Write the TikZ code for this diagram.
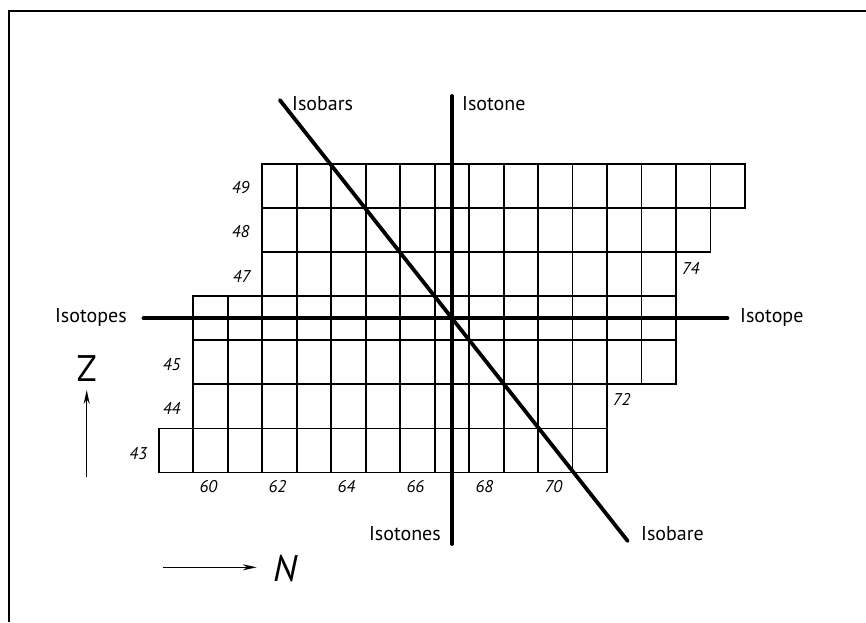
\documentclass[tikz,border=0pt]{standalone}
\usepackage{fontspec}
\setmainfont{PT Sans}
\usetikzlibrary{arrows.meta}

\begin{document}
\begin{tikzpicture}[x=1pt, y=-1pt,
  cell/.style={draw, line width=1.8pt},
  heavy/.style={line width=3.8pt, line cap=round},
  tag/.style={inner sep=0pt, font=\fontsize{20}{20}\selectfont},
  num/.style={inner sep=0pt, font=\fontsize{17}{17}\selectfont\itshape},
  axis/.style={-{Stealth[length=14pt, width=6pt]}, line width=1.4pt},
  axlab/.style={inner sep=0pt, font=\fontsize{37}{37}\selectfont}
]
  \useasboundingbox (0,0) rectangle (866,622);
  \def\xo{158.7} \def\cw{34.49} \def\yb{472.5} \def\ch{44.07}

  % - Rahmen -
  \draw[line width=2pt] (9,622) -- (9,11) -- (866,11);

  % - Nuklidfelder: Z / erste / letzte Spalte -
  \foreach \z/\a/\b in {43/0/12, 44/1/12, 45/1/14, 46/1/14, 47/3/14, 48/3/15, 49/3/16}
    \foreach \k in {\a,...,\b}
      \draw[cell] ({\xo+\k*\cw},{\yb-(\z-42)*\ch}) rectangle ++(\cw,\ch);

  % - Zahlen -
  \foreach \z/\px/\py in {49/240.7/187.3, 48/240.7/231.7, 47/241.7/276.7,
                          45/171.7/365, 44/171.7/408.3, 43/138.3/453.3}
    \node[num] (z\z) at (\px,\py) {\z};
  \foreach \n in {60,62,...,70}
    \node[num] (n\n) at ({\xo+(\n-59+0.5)*\cw-2}, 487) {\n};
  \node[num] (n72) at (621.7,399.3) {72};
  \node[num] (n74) at (690.7,268.3) {74};

  % - Beschriftungen -
  \node[tag, anchor=base west] (isobars)  at (292,110) {Isobars};
  \node[tag, anchor=base west] (isotone)  at (462,110) {Isotone};
  \node[tag, anchor=base east] (isotopes) at (127,322) {Isotopes};
  \node[tag, anchor=base west] (isotope)  at (740,322) {Isotope};
  \node[tag, anchor=base east] (isotones) at (441,540) {Isotones};
  \node[tag, anchor=base west] (isobare)  at (641,540) {Isobare};

  % - Linien -
  \coordinate (bar-top)  at (279.8,100);
  \coordinate (bar-bot)  at (627.7,541);
  \coordinate (tone-top) at (452,96);
  \coordinate (tone-bot) at (452,544);
  \coordinate (tope-l)   at (143.5,318.2);
  \coordinate (tope-r)   at (727.5,318.2);
  \draw[heavy] (bar-top)  -- (bar-bot);
  \draw[heavy] (tone-top) -- (tone-bot);
  \draw[heavy] (tope-l)   -- (tope-r);

  % - Achsen -
  \coordinate (z-from) at (86.7,476.7);
  \coordinate (z-to)   at (86.7,390);
  \coordinate (n-from) at (163.3,567.3);
  \coordinate (n-to)   at (256.7,567.3);
  \draw[axis] (z-from) -- (z-to);
  \draw[axis] (n-from) -- (n-to);
  \node[axlab] (Z) at (86.7,368.3) {Z};
  \node[axlab] (N) at (285,568.3) {\itshape N};
\end{tikzpicture}
\end{document}
